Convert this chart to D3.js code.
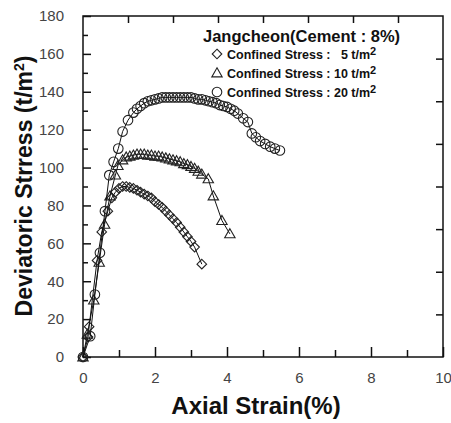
<!DOCTYPE html>
<html><head><meta charset="utf-8">
<script src="https://cdn.jsdelivr.net/npm/d3@7"></script>
<style>
html,body{margin:0;padding:0;background:#fff;}
svg{display:block;font-family:Arial,"Liberation Sans",sans-serif;}
</style></head>
<body>
<svg id="chart" width="451" height="423"></svg>
<script>
// ---- data ----
const strain5  = [0,0.14,0.17,0.39,0.52,0.69,0.8,0.9,1.0,1.1,1.2,1.3,1.4,1.5,1.6,1.7,1.8,1.9,2.0,2.1,2.2,2.3,2.4,2.5,2.6,2.7,2.8,2.9,3.0,3.1,3.3];
const stress5  = [0,10.5,16,51,66,77,84,87,89,90,90,89.5,89,88,87,86,85,84,82,80.5,79,77,75,73,71,68.5,66,63.5,61,58,49];
const strain10 = [0,0.12,0.3,0.45,0.6,0.75,0.9,0.97,1.1,1.2,1.3,1.4,1.5,1.6,1.7,1.8,1.9,2.0,2.1,2.2,2.3,2.4,2.5,2.6,2.7,2.8,2.9,3.0,3.1,3.2,3.3,3.48,3.62,3.86,4.08];
const stress10 = [0,12,30,50,70,85,96,101,104,105.5,106,106.5,107,107,107,106.5,106.5,106,106,105.5,105,104.5,104,103.5,103,102,101.5,100.5,99.5,98,96.5,94,85,72,65];
const strain20 = [0,0.2,0.33,0.47,0.61,0.73,0.85,0.98,1.1,1.25,1.4,1.5,1.6,1.7,1.8,1.9,2.0,2.1,2.2,2.3,2.4,2.5,2.6,2.7,2.8,2.9,3.0,3.1,3.2,3.3,3.4,3.5,3.6,3.7,3.8,3.9,4.0,4.1,4.2,4.3,4.45,4.58,4.69,4.8,4.92,5.06,5.2,5.33,5.47];
const stress20 = [0,11,33,55,77,96,103,110,119,125,129,131,132.5,134,135,135.5,136,136.5,137,137,137,137,137,137,137,137,137,136.5,136,136,135.5,135,134.5,134,133,132.5,132,131,130,128.5,126,124,118,116,114,112.5,111,110,109];
const seriesNames = ["Confined Stress :\u00a0\u00a0\u00a05 t/m", "Confined Stress : 10 t/m", "Confined Stress : 20 t/m"];
const legendTitle = "Jangcheon(Cement : 8%)";
const xTicksMajor = [0,2,4,6,8,10];
const xTicksMinor = [1,3,5,7,9];
const yTicksMajor = [0,20,40,60,80,100,120,140,160,180];
const yTicksMinor = [10,30,50,70,90,110,130,150,170];
const xTitle = "Axial Strain(%)";
const yTitle = "Deviatoric Strress (t/m";

// ---- layout ----
const svg = d3.select("#chart");
const x = d3.scaleLinear().domain([0,10]).range([83,443]);
const y = d3.scaleLinear().domain([0,180]).range([357,16]);

svg.append("rect").attr("x",x(0)).attr("y",y(180)).attr("width",x(10)-x(0)).attr("height",y(0)-y(180))
  .attr("fill","none").attr("stroke","#111").attr("stroke-width",1.5);

function styleAxis(g){
  g.select(".domain").remove();
  g.selectAll(".tick line").attr("stroke","#111").attr("stroke-width",1.5);
  g.selectAll(".tick text").attr("fill","#444").attr("font-size",15).attr("font-family","Arial, 'Liberation Sans', sans-serif");
}
svg.append("g").attr("transform",`translate(0,${y(0)})`)
  .call(d3.axisBottom(x).tickValues(xTicksMajor).tickSize(-10).tickPadding(15).tickFormat(d3.format("d"))).call(styleAxis);
svg.append("g").attr("transform",`translate(0,${y(0)})`)
  .call(d3.axisBottom(x).tickValues(xTicksMinor).tickSize(-7).tickFormat("")).call(styleAxis);
svg.append("g").attr("transform",`translate(${x(0)},0)`)
  .call(d3.axisLeft(y).tickValues(yTicksMajor).tickSize(-8).tickPadding(19).tickFormat(d3.format("d"))).call(styleAxis);
svg.append("g").attr("transform",`translate(${x(0)},0)`)
  .call(d3.axisLeft(y).tickValues(yTicksMinor).tickSize(-5).tickFormat("")).call(styleAxis);
const topTicks = d3.range(1,8).map(i=>i*10/8);
const rightTicks = d3.range(1,8).map(i=>i*180/8);
svg.append("g").attr("transform",`translate(0,${y(180)})`)
  .call(d3.axisTop(x).tickValues(topTicks).tickSize(-7).tickFormat("")).call(styleAxis);
svg.append("g").attr("transform",`translate(${x(10)},0)`)
  .call(d3.axisRight(y).tickValues(rightTicks).tickSize(-7).tickFormat("")).call(styleAxis);

const series = [
  {xs:strain5, ys:stress5, shape:"diamond"},
  {xs:strain10, ys:stress10, shape:"triangle"},
  {xs:strain20, ys:stress20, shape:"circle"}
];
const line = d3.line().x(d=>x(d[0])).y(d=>y(d[1]));
function marker(g, shape, cx, cy){
  if(shape==="circle"){
    g.append("circle").attr("cx",cx).attr("cy",cy).attr("r",4.8).attr("fill","none").attr("stroke","#222").attr("stroke-width",1.1);
  } else if(shape==="diamond"){
    const s=4.8;
    g.append("path").attr("d",`M${cx},${cy-s}L${cx+s},${cy}L${cx},${cy+s}L${cx-s},${cy}Z`).attr("fill","none").attr("stroke","#222").attr("stroke-width",1.1);
  } else {
    const s=5.2;
    g.append("path").attr("d",`M${cx},${cy-s}L${cx+s},${cy+s*0.75}L${cx-s},${cy+s*0.75}Z`).attr("fill","none").attr("stroke","#222").attr("stroke-width",1.1);
  }
}
series.forEach(s=>{
  const pts = s.xs.map((v,i)=>[v,s.ys[i]]);
  svg.append("path").datum(pts).attr("d",line).attr("fill","none").attr("stroke","#111").attr("stroke-width",1);
  const g = svg.append("g");
  pts.forEach(p=>marker(g,s.shape,x(p[0]),y(p[1])));
});

// legend
svg.append("text").attr("x",203).attr("y",42).attr("font-size",16.5).attr("font-weight","bold").attr("fill","#111").text(legendTitle);
const shapes=["diamond","triangle","circle"];
const rowY=[54,73,92];
shapes.forEach((sh,i)=>{
  const g=svg.append("g");
  marker(g,sh,217,rowY[i]);
  const t=svg.append("text").attr("x",227).attr("y",rowY[i]+4.5).attr("font-size",12.5).attr("font-weight","bold").attr("fill","#111");
  t.append("tspan").text(seriesNames[i]);
  t.append("tspan").attr("dy",-4).attr("font-size",11).text("2");
});

// axis titles
svg.append("text").attr("x",256).attr("y",414).attr("text-anchor","middle").attr("font-size",24).attr("font-weight","bold").attr("fill","#111").text(xTitle);
const yt = svg.append("text").attr("transform","translate(32,186) rotate(-90)").attr("text-anchor","middle").attr("font-size",23).attr("font-weight","bold").attr("fill","#111");
yt.append("tspan").text(yTitle);
yt.append("tspan").attr("dy",-8).attr("font-size",14).text("2");
yt.append("tspan").attr("dy",8).text(")");
</script>
</body></html>
